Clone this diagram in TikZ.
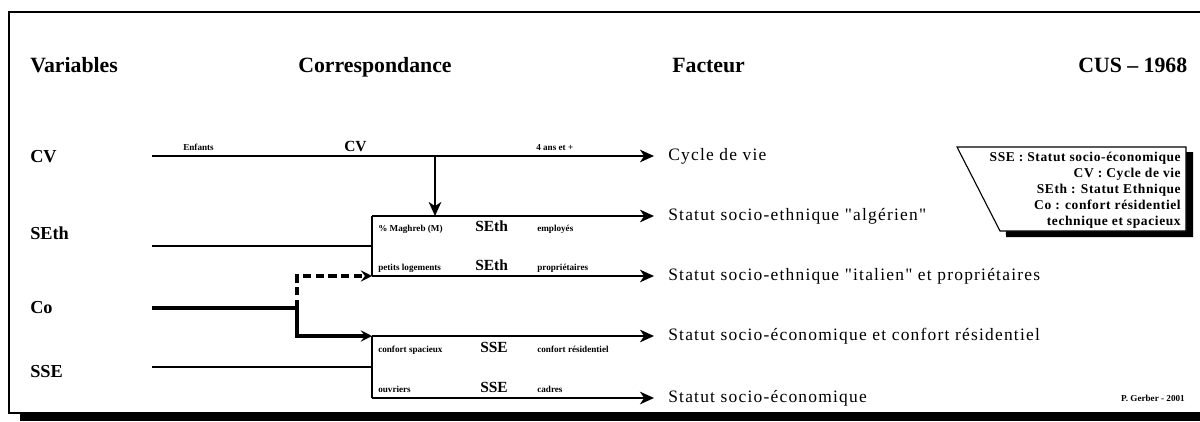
\documentclass[tikz,border=0pt]{standalone}
\usepackage{fontspec}
\setmainfont{Liberation Serif}
\usetikzlibrary{arrows,arrows.meta,positioning}
\newfontfamily\spacedfont[LetterSpace=7]{Liberation Serif}
\newfontfamily\legendfont[LetterSpace=4.5]{Liberation Serif}

\begin{document}
\begin{tikzpicture}[x=0.025cm,y=-0.025cm,
    head/.style={anchor=base west,inner sep=0pt,font=\fontsize{15.5}{16}\selectfont\bfseries},
    var/.style={anchor=base west,inner sep=0pt,font=\fontsize{13}{14}\selectfont\bfseries},
    fact/.style={anchor=west,inner sep=0pt,font=\spacedfont\fontsize{12.4}{13}\selectfont},
    small/.style={anchor=base west,inner sep=0pt,font=\fontsize{6.5}{7}\selectfont\bfseries},
    mid/.style={anchor=base west,inner sep=0pt,font=\fontsize{11}{12}\selectfont\bfseries},
    leg/.style={anchor=base east,inner sep=0pt,font=\legendfont\fontsize{9.6}{10}\selectfont\bfseries},
    link/.style={line width=1.1pt},
    arr/.style={line width=1.1pt,-{Stealth[length=10pt,width=9pt,inset=3pt]}},
    thick arr/.style={line width=2.2pt,-{Stealth[length=8pt,width=8pt,inset=3pt]}}]
    \useasboundingbox (0,0) rectangle (1200,421);
    \fill[black] (20,413) rectangle (1210,421);
    \draw[line width=1.2pt,fill=white] (9,12) rectangle (1210,413);

    \node[head] (h1) at (30,72) {Variables};
    \node[head] (h2) at (298,72) {Correspondance};
    \node[head] (h3) at (672,72) {Facteur};
    \node[head] (h4) at (1078,72) {CUS -- 1968};

    \node[var] (var1) at (30,162) {CV};
    \node[var] (var2) at (30,239) {SEth};
    \node[var] (var3) at (30,313) {Co};
    \node[var] (var4) at (30,377) {SSE};

    \coordinate (cv0) at (152,156);
    \coordinate (se0) at (152,246);
    \coordinate (co0) at (152,308);
    \coordinate (ss0) at (152,367);
    \coordinate (cvd) at (435,156);
    \coordinate (cosplit) at (297,308);

    \coordinate (b1t) at (372,216);
    \coordinate (b1) at (372,246);
    \coordinate (b1b) at (372,276);
    \coordinate (b2t) at (372,336);
    \coordinate (b2) at (372,367);
    \coordinate (b2b) at (372,398);

    \coordinate (t1) at (654,156);
    \coordinate (t2) at (654,216);
    \coordinate (t3) at (654,276);
    \coordinate (t4) at (654,336);
    \coordinate (t5) at (654,398);

    \node[fact] (fac1) at (668,156) {Cycle de vie};
    \node[fact] (fac2) at (668,216) {Statut socio-ethnique "algérien"};
    \node[fact] (fac3) at (668,276) {Statut socio-ethnique "italien" et propriétaires};
    \node[fact] (fac4) at (668,336) {Statut socio-économique et confort résidentiel};
    \node[fact] (fac5) at (668,398) {Statut socio-économique};

    \draw[arr] (cv0) -- (t1);
    \draw[arr] (cvd) -- (b1t -| cvd);
    \draw[link] (se0) -- (b1);
    \draw[link] (b1t) -- (b1b);
    \draw[arr] (b1t) -- (t2);
    \draw[arr] (b1b) -- (t3);
    \draw[link] (ss0) -- (b2);
    \draw[link] (b2t) -- (b2b);
    \draw[arr] (b2t) -- (t4);
    \draw[arr] (b2b) -- (t5);
    \draw[line width=2.2pt] (co0) -- (cosplit);
    \draw[thick arr,dash pattern=on 6pt off 3pt] (cosplit) |- (b1b);
    \draw[thick arr] (cosplit) |- (b2t);

    \node[small] (lab1) at (183,150) {Enfants};
    \node[mid] (lab2) at (344,151) {CV};
    \node[small] (lab3) at (536,150) {4 ans et +};
    \node[small] (lab4) at (378,231) {\% Maghreb (M)};
    \node[mid] (lab5) at (475,231) {SEth};
    \node[small] (lab6) at (537,231) {employés};
    \node[small] (lab7) at (378,270) {petits logements};
    \node[mid] (lab8) at (475,270) {SEth};
    \node[small] (lab9) at (537,270) {propriétaires};
    \node[small] (lab10) at (378,352) {confort spacieux};
    \node[mid] (lab11) at (480,352) {SSE};
    \node[small] (lab12) at (537,352) {confort résidentiel};
    \node[small] (lab13) at (378,392) {ouvriers};
    \node[mid] (lab14) at (480,392) {SSE};
    \node[small] (lab15) at (537,392) {cadres};

    \fill[black] (1005,152) -- (1193,152) -- (1193,237) -- (1006,237) -- cycle;
    \draw[line width=0.8pt,fill=white] (957,147) -- (1186,147) -- (1186,231) -- (1000,231) -- cycle;
    \node[leg] (leg1) at (1181,161) {SSE : Statut socio-économique};
    \node[leg] (leg2) at (1181,177) {CV : Cycle de vie};
    \node[leg] (leg3) at (1181,193) {SEth : Statut Ethnique};
    \node[leg] (leg4) at (1181,209) {Co : confort résidentiel};
    \node[leg] (leg5) at (1181,225) {technique et spacieux};

    \node[small,anchor=base east] (sign) at (1185,401) {P. Gerber - 2001};
\end{tikzpicture}
\end{document}
